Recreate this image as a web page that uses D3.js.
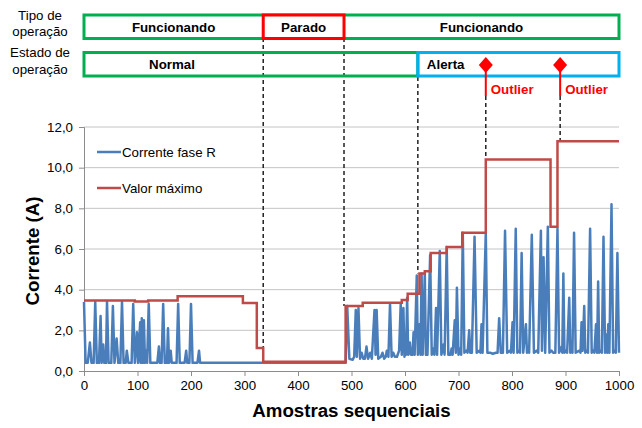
<!DOCTYPE html>
<html><head><meta charset="utf-8">
<script src="https://cdn.jsdelivr.net/npm/d3@7/dist/d3.min.js"></script>
<style>
body{margin:0;background:#fff}
svg{display:block}
text{font-family:"Liberation Sans",Arial,sans-serif}
</style>
</head><body>
<svg id="c" width="642" height="428"></svg>
<script>
// ---------- DATA ----------
const yTicks = [0, 2, 4, 6, 8, 10, 12];
const xTicks = [0, 100, 200, 300, 400, 500, 600, 700, 800, 900, 1000];
const seriesNames = ["Corrente fase R", "Valor máximo"];

// Corrente fase R : [amostra, corrente]
const currentR = [
 [0,3.4],[3,0.4],[7,0.4],[11,1.4],[14,0.4],[18,0.4],[21,3.4],[24,0.4],[28,0.4],[31,2.7],[33,0.4],[36,1.3],[38,0.4],
 [41,0.4],[43,3.4],[46,0.4],[51,0.4],[54,3.2],[57,0.4],[61,1.6],[64,0.4],[68,0.4],[71,3.4],[74,0.4],[78,0.4],[80,1.0],
 [83,0.4],[89,0.4],[92,3.3],[95,0.4],[99,1.9],[101,0.4],[105,2.4],[106,0.4],[108,2.6],[110,0.4],[112,2.5],[114,0.4],
 [116,1.0],[118,0.4],[121,3.3],[124,0.4],[137,0.4],[140,1.2],[142,0.4],[145,0.4],[148,3.3],[151,0.4],[155,0.4],[157,2.1],
 [159,0.4],[162,1.0],[164,0.4],[173,0.4],[176,3.3],[179,0.4],[188,0.4],[191,1.0],[193,0.4],[197,0.4],[200,3.3],[203,0.4],
 [212,0.4],[215,1.0],[217,0.4],[489,0.4],
 [492,3.2],[496,0.6],[502,0.55],[505,0.7],[508,3.0],[510,0.7],[513,3.1],[516,0.6],[519,0.9],[522,0.6],[525,0.6],[528,1.2],
 [531,0.6],[535,0.9],[538,0.6],[543,3.0],[545,0.8],[547,3.0],[550,0.6],[555,0.7],[558,0.9],[561,0.6],[564,0.7],[566,1.0],
 [569,0.7],[572,3.3],[575,0.7],[578,0.9],[581,0.7],[585,0.7],[589,1.0],[592,3.3],[594,0.8],[597,3.1],[599,0.7],[600,1.5],
 [602,0.8],[604,3.6],[606,0.8],[609,1.4],[611,0.8],[614,0.8],[616,1.9],[618,0.8],[622,4.7],[624,0.8],[627,2.3],[629,0.8],
 [631,4.8],[633,0.8],[637,4.8],[639,0.8],[640,1.7],[642,0.8],[647,5.7],[650,0.8],[653,1.1],[655,0.8],[658,3.1],[660,0.8],
 [665,5.9],[668,0.8],[672,1.3],[674,0.8],[678,6.1],[681,0.8],[685,0.8],[687,1.1],[689,0.8],[693,2.5],[695,0.9],[697,4.1],
 [700,0.8],[703,1.1],[705,0.8],[708,6.8],[711,0.9],[715,1.0],[717,0.9],[720,2.0],[722,0.9],[725,0.9],[730,6.6],[734,0.9],
 [739,1.0],[741,0.9],[743,2.3],[745,0.9],[751,6.8],[754,0.9],[759,0.9],[764,0.85],[770,0.9],[773,0.9],[776,2.6],[779,0.9],
 [783,0.9],[787,6.9],[791,0.9],[796,1.0],[798,0.9],[801,2.4],[803,0.9],[807,7.0],[810,0.9],[813,1.0],[815,0.9],[818,5.8],
 [821,0.9],[826,2.3],[828,0.9],[830,1.0],[832,0.9],[837,6.7],[841,0.9],[846,1.0],[849,0.9],[854,6.9],[856,1.0],[859,5.6],
 [862,0.9],[867,7.1],[870,0.9],[874,1.0],[877,0.9],[881,0.9],[885,7.0],[888,0.9],[893,1.2],[894,0.9],[896,4.8],[898,0.9],
 [901,1.0],[903,0.9],[907,3.6],[909,0.9],[911,1.0],[913,0.9],[916,6.8],[919,0.9],[926,1.0],[928,0.9],[930,2.4],[932,1.0],
 [935,3.2],[937,0.9],[940,1.0],[942,0.9],[946,7.0],[949,0.9],[952,1.0],[954,0.9],[957,2.3],[959,0.9],[961,4.4],[963,0.9],
 [966,1.0],[968,0.9],[971,6.6],[974,0.9],[977,1.8],[978,0.9],[980,2.3],[982,0.9],[986,8.2],[989,0.9],[992,1.0],[994,0.9],
 [997,5.8],[1000,0.9]
];

// Valor máximo (degraus)
const maxStepX = [0, 95, 120, 175, 297, 323, 335, 489, 521, 594, 605, 627, 637, 648, 678, 707, 751, 872, 885, 1000];
const maxStepY = [3.47, 3.42, 3.47, 3.68, 3.35, 1.13, 0.45, 3.2, 3.36, 3.49, 3.8, 4.8, 4.9, 5.8, 6.1, 6.8, 10.4, 7.1, 11.3, 11.3];

// Tipo de operação
const opLabels = ["Funcionando", "Parado", "Funcionando"];
const opStart  = [0, 335, 486];
const opEnd    = [335, 486, 1000];
// Estado de operação
const stateLabels = ["Normal", "Alerta"];
const stateStart  = [0, 624];
const stateEnd    = [624, 1000];
// Outliers
const outlierX = [751, 890];
const outlierLabel = "Outlier";
// Linhas de transição (amostra, valor onde termina)
const transitionX   = [335, 486, 624, 751, 890];
const transitionEnd = [1.13, 3.2, 4.8, 10.4, 11.3];

// ---------- CHART ----------
const svg = d3.select("#c");
const M = {left: 84, right: 619, top: 127, bottom: 371};
const x = d3.scaleLinear().domain([0, 1000]).range([M.left, M.right]);
const y = d3.scaleLinear().domain([0, 12]).range([M.bottom, M.top]);

const FONT = 13.3;
const GREEN = "#00b050", RED = "#ff0000", CYAN = "#00b0f0";
const BLUE = "#4a7ebb", DARKRED = "#be4b48";

// grid
svg.append("g").selectAll("line").data(yTicks.filter(d => d > 0)).join("line")
  .attr("x1", M.left).attr("x2", M.right)
  .attr("y1", d => y(d)).attr("y2", d => y(d))
  .attr("stroke", "#c4c4c4").attr("stroke-width", 1);

// axes
const yAxis = d3.axisLeft(y).tickValues(yTicks).tickSize(5).tickPadding(6)
  .tickFormat(d => d3.format(".1f")(d).replace(".", ","));
const gy = svg.append("g").attr("transform", `translate(${M.left},0)`).call(yAxis);
const xAxis = d3.axisBottom(x).tickValues(xTicks).tickSize(5).tickPadding(5).tickFormat(d3.format("d"));
const gx = svg.append("g").attr("transform", `translate(0,${M.bottom})`).call(xAxis);
[gx, gy].forEach(g => {
  g.select(".domain").attr("stroke", "#8c8c8c").attr("stroke-width", 1);
  g.selectAll(".tick line").attr("stroke", "#8c8c8c");
  g.selectAll(".tick text").attr("fill", "#000").style("font-size", FONT + "px")
    .style("font-family", '"Liberation Sans",Arial,sans-serif');
});

// axis titles
svg.append("text").attr("x", (M.left + M.right) / 2).attr("y", 417)
  .attr("text-anchor", "middle").attr("font-weight", "bold").attr("font-size", 18.7)
  .text("Amostras sequenciais");
svg.append("text").attr("transform", `translate(39,${(M.top + M.bottom) / 2 + 2}) rotate(-90)`)
  .attr("text-anchor", "middle").attr("font-weight", "bold").attr("font-size", 18.7)
  .text("Corrente (A)");

// dashed transition lines
const topStart = [38, 38, 77, 96, 96];
svg.append("g").selectAll("line").data(transitionX).join("line")
  .attr("x1", d => x(d)).attr("x2", d => x(d))
  .attr("y1", (d, i) => topStart[i]).attr("y2", (d, i) => y(transitionEnd[i]))
  .attr("stroke", "#222").attr("stroke-width", 1.5).attr("stroke-dasharray", "4,3");

// series
const line = d3.line().x(d => x(d[0])).y(d => y(d[1]));
svg.append("path").datum(currentR).attr("d", line)
  .attr("fill", "none").attr("stroke", BLUE).attr("stroke-width", 2.5).attr("stroke-linejoin", "round");
const maxData = maxStepX.map((v, i) => [v, maxStepY[i]]);
svg.append("path").datum(maxData).attr("d", line.curve(d3.curveStepAfter))
  .attr("fill", "none").attr("stroke", DARKRED).attr("stroke-width", 2.5);

// legend
const lg = svg.append("g");
seriesNames.forEach((n, i) => {
  const ly = 152 + i * 36;
  lg.append("line").attr("x1", 97).attr("x2", 121).attr("y1", ly).attr("y2", ly)
    .attr("stroke", i === 0 ? BLUE : DARKRED).attr("stroke-width", 2.5);
  lg.append("text").attr("x", 122).attr("y", ly + 5).attr("font-size", FONT).text(n);
});

// top label rows
const leftLabels = [["Tipo de", "operação"], ["Estado de", "operação"]];
const rowTop = [15, 52.5], rowH = 23.5;
leftLabels.forEach((ls, r) => {
  ls.forEach((t, j) => {
    svg.append("text").attr("x", 40).attr("y", rowTop[r] + 4.5 + j * 16.5)
      .attr("text-anchor", "middle").attr("font-size", FONT).text(t);
  });
});

// row 1 boxes
svg.append("rect").attr("x", x(0)).attr("y", rowTop[0]).attr("width", x(1000) - x(0)).attr("height", rowH)
  .attr("fill", "none").attr("stroke", GREEN).attr("stroke-width", 3);
opLabels.forEach((l, i) => {
  if (l === "Parado") {
    svg.append("rect").attr("x", x(opStart[i])).attr("y", rowTop[0]).attr("width", x(opEnd[i]) - x(opStart[i]))
      .attr("height", rowH).attr("fill", "#fff").attr("stroke", RED).attr("stroke-width", 3);
  }
  svg.append("text").attr("x", (x(opStart[i]) + x(opEnd[i])) / 2).attr("y", rowTop[0] + rowH / 2 + 5)
    .attr("text-anchor", "middle").attr("font-weight", "bold").attr("font-size", FONT).text(l);
});

// row 2 boxes
const stateColors = [GREEN, CYAN];
stateLabels.forEach((l, i) => {
  svg.append("rect").attr("x", x(stateStart[i])).attr("y", rowTop[1]).attr("width", x(stateEnd[i]) - x(stateStart[i]))
    .attr("height", rowH).attr("fill", "none").attr("stroke", stateColors[i]).attr("stroke-width", 3);
});
svg.append("text").attr("x", 172).attr("y", rowTop[1] + rowH / 2 + 5)
  .attr("text-anchor", "middle").attr("font-weight", "bold").attr("font-size", FONT).text(stateLabels[0]);
svg.append("text").attr("x", x(stateStart[1]) + 9).attr("y", rowTop[1] + rowH / 2 + 5)
  .attr("font-weight", "bold").attr("font-size", FONT).text(stateLabels[1]);

// outliers
outlierX.forEach(o => {
  const cx = x(o), cy = 65;
  svg.append("line").attr("x1", cx).attr("x2", cx).attr("y1", cy).attr("y2", 96)
    .attr("stroke", RED).attr("stroke-width", 2);
  svg.append("path").attr("d", `M${cx},${cy - 8}L${cx + 7},${cy}L${cx},${cy + 8}L${cx - 7},${cy}Z`).attr("fill", RED);
  svg.append("text").attr("x", cx + 5).attr("y", 94).attr("fill", RED)
    .attr("font-weight", "bold").attr("font-size", FONT).text(outlierLabel);
});
</script>
</body></html>
